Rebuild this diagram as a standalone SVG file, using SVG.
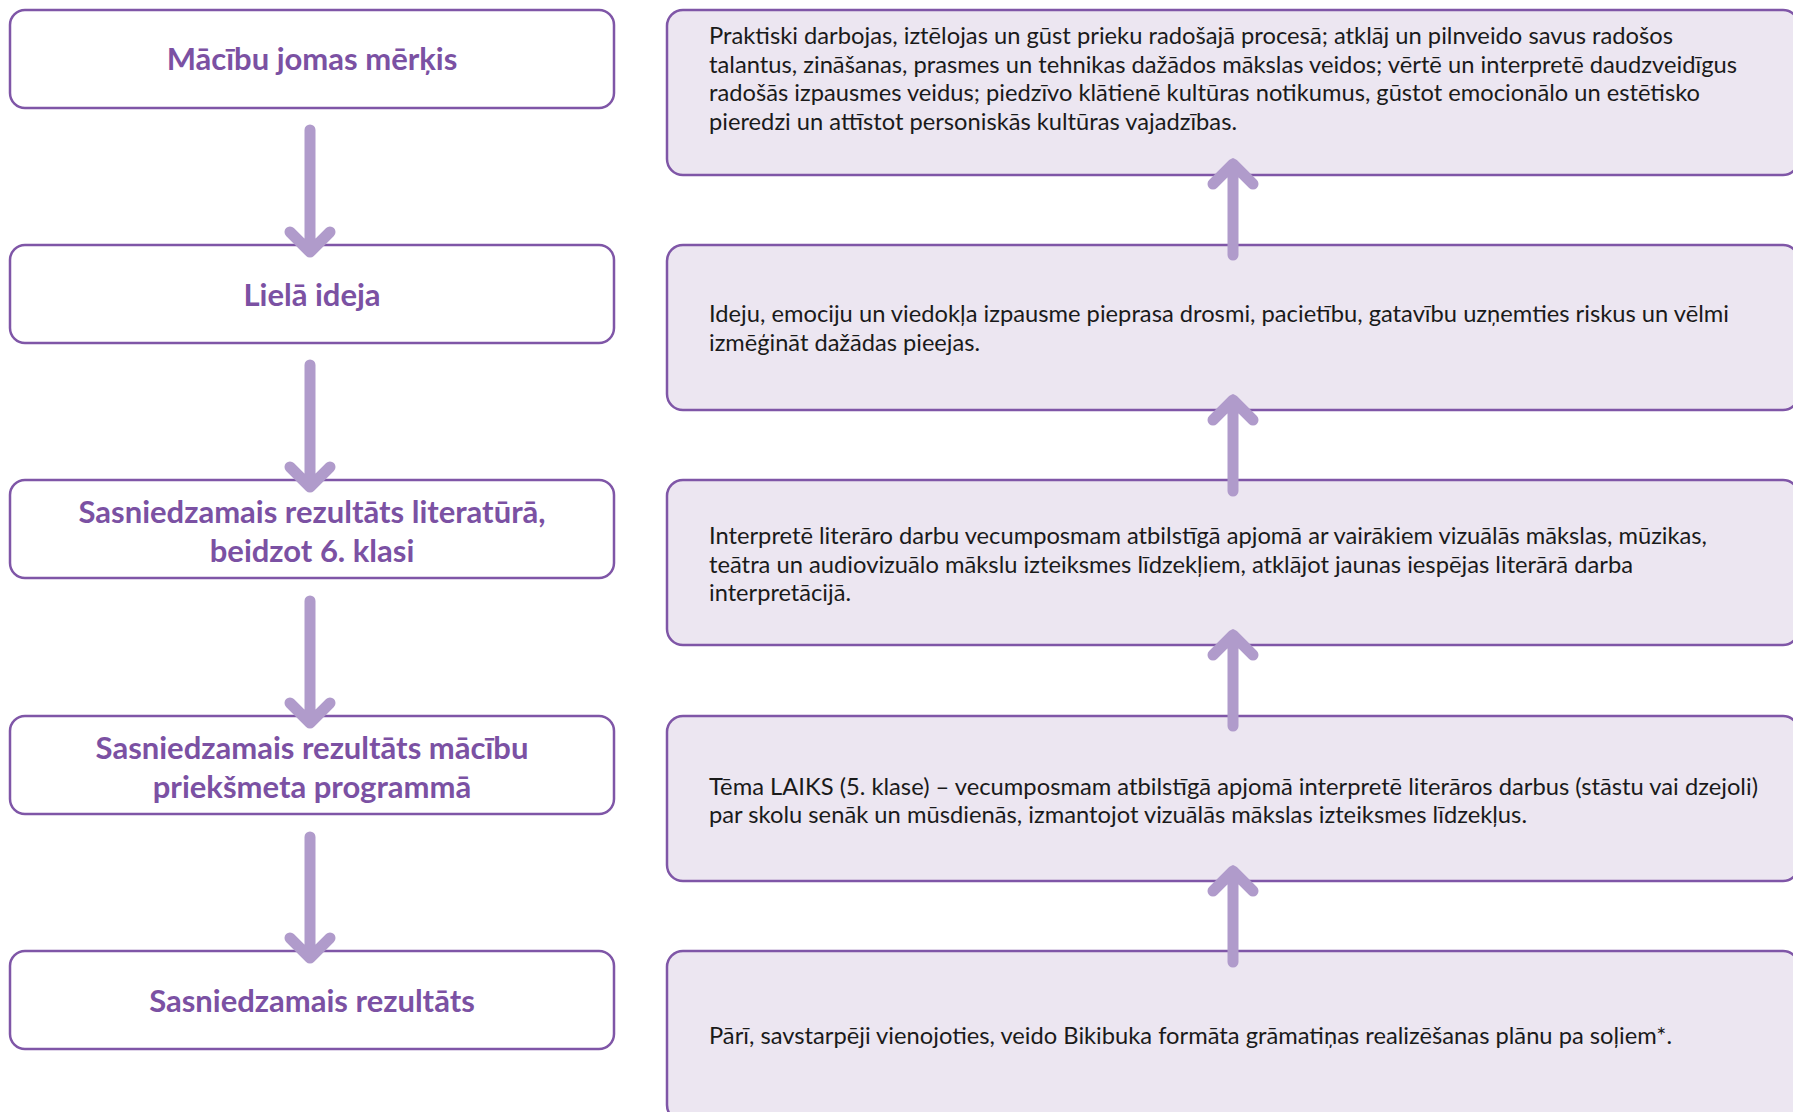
<svg xmlns="http://www.w3.org/2000/svg" width="1793" height="1112" viewBox="0 0 1793 1112">
<style>
.lbox{fill:#ffffff;stroke:#7f56a7;stroke-width:2.5}
.rbox{fill:#ece6f1;stroke:#7f56a7;stroke-width:2.5}
.lt{font-family:Lato,"Open Sans","Liberation Sans",sans-serif;font-weight:bold;font-size:31px;fill:#7b51a3;text-anchor:middle}
.rt{font-family:Lato,"Open Sans","Liberation Sans",sans-serif;font-size:23.5px;fill:#1a1a1a}
.arr{fill:none;stroke:#b09bcb;stroke-width:11;stroke-linecap:round;stroke-linejoin:round}
</style>
<rect width="1793" height="1112" fill="#ffffff"/>
<g id="n-left1"><rect class="lbox" x="10" y="10" width="604" height="98" rx="15"/><text class="lt" x="312" y="70">Mācību jomas mērķis</text></g>
<g id="n-left2"><rect class="lbox" x="10" y="245" width="604" height="98" rx="15"/><text class="lt" x="312" y="306">Lielā ideja</text></g>
<g id="n-left3"><rect class="lbox" x="10" y="480" width="604" height="98" rx="15"/><text class="lt" x="312" y="523">Sasniedzamais rezultāts literatūrā,</text><text class="lt" x="312" y="562">beidzot 6. klasi</text></g>
<g id="n-left4"><rect class="lbox" x="10" y="716" width="604" height="98" rx="15"/><text class="lt" x="312" y="759">Sasniedzamais rezultāts mācību</text><text class="lt" x="312" y="798">priekšmeta programmā</text></g>
<g id="n-left5"><rect class="lbox" x="10" y="951" width="604" height="98" rx="15"/><text class="lt" x="312" y="1012">Sasniedzamais rezultāts</text></g>

<g id="n-right1"><rect class="rbox" x="667" y="10" width="1132" height="165" rx="16"/>
<text class="rt" x="709" y="44" textLength="964" lengthAdjust="spacingAndGlyphs">Praktiski darbojas, iztēlojas un gūst prieku radošajā procesā; atklāj un pilnveido savus radošos</text>
<text class="rt" x="709" y="73" textLength="1028" lengthAdjust="spacingAndGlyphs">talantus, zināšanas, prasmes un tehnikas dažādos mākslas veidos; vērtē un interpretē daudzveidīgus</text>
<text class="rt" x="709" y="101" textLength="991" lengthAdjust="spacingAndGlyphs">radošās izpausmes veidus; piedzīvo klātienē kultūras notikumus, gūstot emocionālo un estētisko</text>
<text class="rt" x="709" y="130" textLength="528" lengthAdjust="spacingAndGlyphs">pieredzi un attīstot personiskās kultūras vajadzības.</text></g>
<g id="n-right2"><rect class="rbox" x="667" y="245" width="1132" height="165" rx="16"/>
<text class="rt" x="709" y="322" textLength="1020" lengthAdjust="spacingAndGlyphs">Ideju, emociju un viedokļa izpausme pieprasa drosmi, pacietību, gatavību uzņemties riskus un vēlmi</text>
<text class="rt" x="709" y="351" textLength="271" lengthAdjust="spacingAndGlyphs">izmēģināt dažādas pieejas.</text></g>
<g id="n-right3"><rect class="rbox" x="667" y="480" width="1132" height="165" rx="16"/>
<text class="rt" x="709" y="544" textLength="998" lengthAdjust="spacingAndGlyphs">Interpretē literāro darbu vecumposmam atbilstīgā apjomā ar vairākiem vizuālās mākslas, mūzikas,</text>
<text class="rt" x="709" y="573" textLength="924" lengthAdjust="spacingAndGlyphs">teātra un audiovizuālo mākslu izteiksmes līdzekļiem, atklājot jaunas iespējas literārā darba</text>
<text class="rt" x="709" y="601" textLength="142" lengthAdjust="spacingAndGlyphs">interpretācijā.</text></g>
<g id="n-right4"><rect class="rbox" x="667" y="716" width="1132" height="165" rx="16"/>
<text class="rt" x="709" y="795" textLength="1049" lengthAdjust="spacingAndGlyphs">Tēma LAIKS (5. klase) – vecumposmam atbilstīgā apjomā interpretē literāros darbus (stāstu vai dzejoli)</text>
<text class="rt" x="709" y="823" textLength="818" lengthAdjust="spacingAndGlyphs">par skolu senāk un mūsdienās, izmantojot vizuālās mākslas izteiksmes līdzekļus.</text></g>
<g id="n-right5"><rect class="rbox" x="667" y="951" width="1132" height="170" rx="16"/>
<text class="rt" x="709" y="1044" textLength="963" lengthAdjust="spacingAndGlyphs">Pārī, savstarpēji vienojoties, veido Bikibuka formāta grāmatiņas realizēšanas plānu pa soļiem*.</text></g>

<g id="connectors">
<path class="arr" d="M310 130 V252 M290 232 L310 252 L330 232"/>
<path class="arr" d="M310 365 V487 M290 467 L310 487 L330 467"/>
<path class="arr" d="M310 601 V723 M290 703 L310 723 L330 703"/>
<path class="arr" d="M310 837 V958 M290 938 L310 958 L330 938"/>
<path class="arr" d="M1233 255 V164 M1213 184 L1233 164 L1253 184"/>
<path class="arr" d="M1233 491 V400 M1213 420 L1233 400 L1253 420"/>
<path class="arr" d="M1233 726 V635 M1213 655 L1233 635 L1253 655"/>
<path class="arr" d="M1233 962 V871 M1213 891 L1233 871 L1253 891"/>
</g>
</svg>
